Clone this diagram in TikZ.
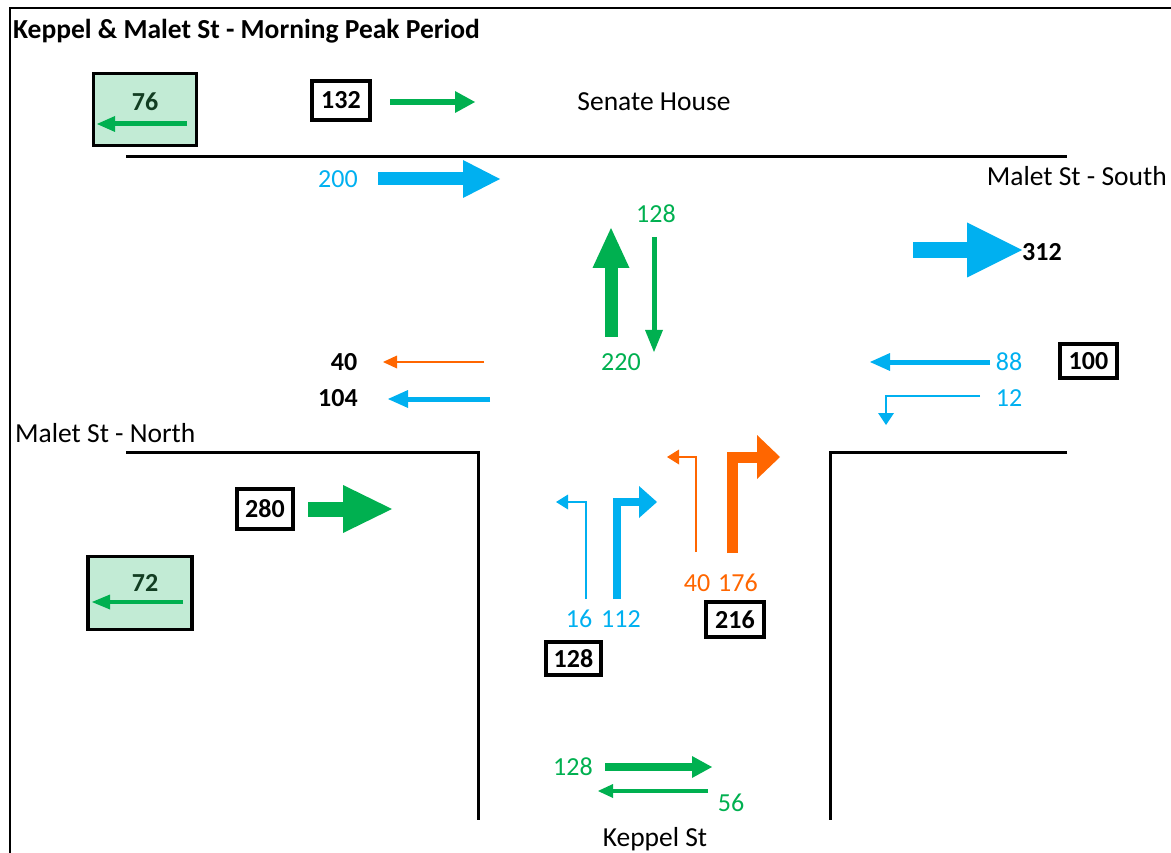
\documentclass[tikz,border=0pt]{standalone}
\usepackage{fontspec}
\setmainfont{Carlito}
\usetikzlibrary{arrows.meta}
\definecolor{flowgreen}{HTML}{00B050}
\definecolor{flowblue}{HTML}{00B0F0}
\definecolor{floworange}{HTML}{FF6600}
\definecolor{boxgreen}{HTML}{C2EBD5}
\definecolor{darkgreen}{HTML}{123D22}
\tikzset{
  lbl/.style = {inner sep=0pt, text height=17pt, text depth=0pt,
                font=\fontsize{26}{30}\selectfont},
  word/.style = {lbl, font=\fontsize{27.5}{32}\selectfont},
  num/.style = {lbl, font=\fontsize{26}{30}\selectfont\bfseries},
  totbox/.style = {num, draw, line width=4.5pt, inner sep=0pt},
  exitbox/.style = {draw, fill=boxgreen, line width=3.5pt, inner sep=0pt},
  road/.style = {line width=3pt},
  flowhead/.style 2 args = {-{Triangle[length=#1pt,width=#2pt,line width=0pt]}},
  turnarrow/.style = {line join=miter}
}
\begin{document}
\begin{tikzpicture}[x=1pt,y=-1pt]
\useasboundingbox (0,0) rectangle (1171,853);
\clip (0,0) rectangle (1171,853);
\draw[line width=2pt] (10,8) rectangle (1200,900);
\node[word, font=\fontsize{27.5}{32}\selectfont\bfseries, anchor=west] (title) at (13,30) {Keppel \& Malet St - Morning Peak Period};

% streets
\draw[road] (126,157) -- (1067,157);
\draw[road] (126,452) -| (478,820);
\draw[road] (1067,452) -| (830,820);
\node[word] (senate) at (654,102) {Senate House};
\node[word, anchor=east] (south) at (1167,177) {Malet St - South};
\node[word, anchor=west] (north) at (15,434) {Malet St - North};
\node[word] (keppel) at (655,838) {Keppel St};

% exits
\node[exitbox, minimum width=103pt, minimum height=72pt] (exit76) at (145,109.5) {};
\node[num, text=darkgreen] (n76) at (145,102) {76};
\draw[flowgreen, line width=5pt, flowhead={18}{16}] (187,124) -- (97,124);
\node[exitbox, minimum width=104pt, minimum height=73pt] (exit72) at (140,593) {};
\node[num, text=darkgreen] (n72) at (145,583) {72};
\draw[flowgreen, line width=4pt, flowhead={18}{15}] (183,602) -- (92,602);

% totals
\node[totbox, minimum width=58pt, minimum height=39pt] (t132) at (341,100.5) {132};
\node[totbox, minimum width=57pt, minimum height=34pt] (t100) at (1088.5,361) {100};
\node[totbox, minimum width=56pt, minimum height=40pt] (t280) at (265,509) {280};
\node[totbox, minimum width=55pt, minimum height=33pt] (t128) at (573.5,658.5) {128};
\node[totbox, minimum width=58pt, minimum height=35pt] (t216) at (735,619.5) {216};
\node[num] (t312) at (1042,252) {312};

% north side
\draw[flowgreen, line width=6pt, flowhead={20}{22}] (390,102) -- (475,102);
\node[lbl, text=flowblue] (n200) at (338,179) {200};
\draw[flowblue, line width=13pt, flowhead={37}{38}] (378,179) -- (500,179);
\draw[flowblue, line width=16pt, flowhead={55}{55}] (913,250) -- (1022,250);
\node[lbl, text=flowgreen] (n128n) at (656,214) {128};
\draw[flowgreen, line width=13pt, flowhead={40}{37}] (611,337) -- (611,228);
\draw[flowgreen, line width=5pt, flowhead={22}{18}] (654,237) -- (654,352);
\node[lbl, text=flowgreen] (n220) at (621,362) {220};

% west side
\node[num] (n40w) at (344,362) {40};
\draw[floworange, line width=2pt, flowhead={14}{13}] (484,362) -- (383,362);
\node[num] (n104) at (338,398) {104};
\draw[flowblue, line width=5pt, flowhead={20}{18}] (490,399) -- (388,399);
\draw[flowgreen, line width=15pt, flowhead={49}{48}] (308,509) -- (392,509);

% east side
\node[lbl, text=flowblue] (n88) at (1009,362) {88};
\draw[flowblue, line width=5pt, flowhead={20}{18}] (990,362) -- (870,362);
\node[lbl, text=flowblue] (n12) at (1009,398) {12};
\draw[flowblue, line width=2pt, turnarrow, flowhead={12}{16}] (980,396) -| (886,425);

% south approach
\draw[flowblue, line width=2pt, turnarrow, flowhead={12}{15}] (586,599) |- (556,502);
\draw[flowblue, line width=8pt, turnarrow, flowhead={18}{32}] (617,599) |- (657,502);
\node[lbl, text=flowblue] (n16) at (579,619) {16};
\node[lbl, text=flowblue] (n112) at (621,619) {112};
\draw[floworange, line width=2pt, turnarrow, flowhead={12}{15}] (696,552) |- (667,457);
\draw[floworange, line width=11pt, turnarrow, flowhead={23}{44}] (732,553) |- (780,457);
\node[lbl, text=floworange] (n40s) at (697,583) {40};
\node[lbl, text=floworange] (n176) at (738,583) {176};

% Keppel St
\node[lbl, text=flowgreen] (n128s) at (573,767) {128};
\draw[flowgreen, line width=8pt, flowhead={20}{22}] (605,767) -- (712,767);
\node[lbl, text=flowgreen] (n56) at (731,803) {56};
\draw[flowgreen, line width=4pt, flowhead={15}{14}] (708,791) -- (598,791);
\end{tikzpicture}
\end{document}
